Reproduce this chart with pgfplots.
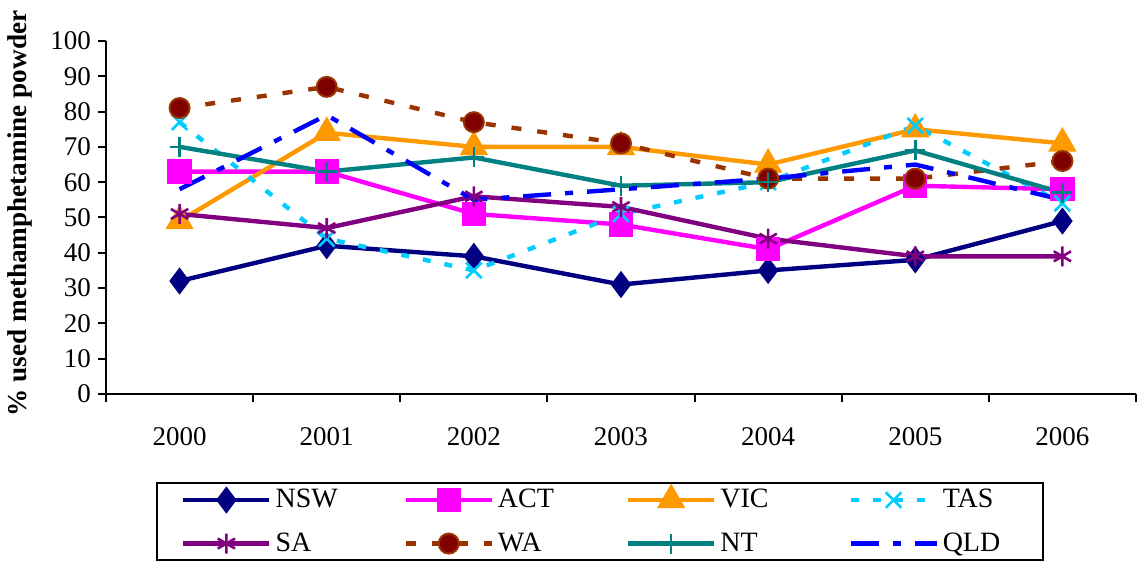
\documentclass[border=0pt]{standalone}
\usepackage{fontspec}
\setmainfont{Liberation Serif}
\usepackage{pgfplots}
\pgfplotsset{compat=1.18}

\definecolor{cNSW}{RGB}{0,0,128}
\definecolor{cACT}{RGB}{255,0,255}
\definecolor{cVIC}{RGB}{255,153,0}
\definecolor{cTAS}{RGB}{0,204,255}
\definecolor{cSA}{RGB}{128,0,128}
\definecolor{cWA}{RGB}{153,51,0}
\definecolor{cWAfill}{RGB}{128,0,0}
\definecolor{cNT}{RGB}{0,128,128}
\definecolor{cQLD}{RGB}{0,0,255}

\begin{document}
\begin{tikzpicture}
\begin{axis}[
    scale only axis,
    width=515pt, height=176.5pt,
    xmin=-0.5, xmax=6.5,
    ymin=0, ymax=100,
    axis lines*=left,
    axis line style={-, line width=1pt},
    tick align=outside,
    ytick={0,10,...,100},
    major tick length=4pt,
    tick style={black, line width=1pt},
    xtick={-0.5,0.5,...,6.5},
    xticklabels={},
    extra x ticks={0,1,2,3,4,5,6},
    extra x tick labels={2000,2001,2002,2003,2004,2005,2006},
    extra x tick style={major tick length=0pt, xticklabel style={yshift=-13pt}},
    font=\fontsize{13.5}{16}\selectfont,
    tick label style={font=\fontsize{13.5}{16}\selectfont},
    /pgf/number format/assume math mode=true,
    ylabel={\textbf{\% used methamphetamine powder}},
    ylabel style={font=\fontsize{13.6}{16}\selectfont, xshift=2pt, yshift=2pt},
    clip=false,
    every axis plot/.append style={line width=2.2pt},
    legend image code/.code={\draw[mark repeat=2,mark phase=2] plot coordinates {(0pt,0pt) (21.5pt,0pt) (43pt,0pt)};},
    legend columns=4,
    legend cell align=left,
    legend style={at={(0.4796,-0.25)}, anchor=north, draw=black, line width=1pt,
        inner xsep=12pt, inner ysep=1pt, row sep=7pt,
        nodes={inner ysep=2pt},
        font=\fontsize{14}{16}\selectfont},
]
\coordinate (O) at (rel axis cs:0,0);

\addplot[cNSW, mark=diamond*, mark size=5pt, mark options={solid}] coordinates {
    (0,32) (1,42) (2,39) (3,31) (4,35) (5,38) (6,49)};
\addlegendentry{\makebox[62pt][l]{NSW}}

\addplot[cACT, mark=square*, mark size=5pt, mark options={solid}] coordinates {
    (0,63) (1,63) (2,51) (3,48) (4,41) (5,59) (6,58)};
\addlegendentry{\makebox[62pt][l]{ACT}}

\addplot[cVIC, mark=triangle*, mark size=6pt, mark options={solid}] coordinates {
    (0,49) (1,74) (2,70) (3,70) (4,65) (5,75) (6,71)};
\addlegendentry{\makebox[62pt][l]{VIC}}

\addplot[cTAS, dash pattern=on 4pt off 7pt, mark=x, mark size=5.5pt, mark options={solid, line width=1.3pt}] coordinates {
    (0,77) (1,44) (2,35) (3,51) (4,60) (5,76) (6,54)};
\addlegendentry{\makebox[36pt][l]{TAS}}

\addplot[cSA, mark=asterisk, mark size=5pt, mark options={solid, line width=1.3pt}] coordinates {
    (0,51) (1,47) (2,56) (3,53) (4,44) (5,39) (6,39)};
\addlegendentry{\makebox[62pt][l]{SA}}

\addplot[cWA, dash pattern=on 5pt off 8pt, mark=*, mark size=5pt, mark options={solid, fill=cWAfill, draw=cWA, line width=1pt}] coordinates {
    (0,81) (1,87) (2,77) (3,71) (4,61) (5,61) (6,66)};
\addlegendentry{\makebox[62pt][l]{WA}}

\addplot[cNT, mark=+, mark size=5pt, mark options={solid, line width=1.3pt}] coordinates {
    (0,70) (1,63) (2,67) (3,59) (4,60) (5,69) (6,57)};
\addlegendentry{\makebox[62pt][l]{NT}}

\addplot[cQLD, dash pattern=on 14pt off 7pt on 4pt off 7pt] coordinates {
    (0,58) (1,79) (2,55) (3,58) (4,61) (5,65) (6,55)};
\addlegendentry{\makebox[36pt][l]{QLD}}

\end{axis}
\pgfresetboundingbox
\path (O) ++(-53pt,-85.5pt) rectangle ++(570pt,282.5pt);
\end{tikzpicture}
\end{document}
